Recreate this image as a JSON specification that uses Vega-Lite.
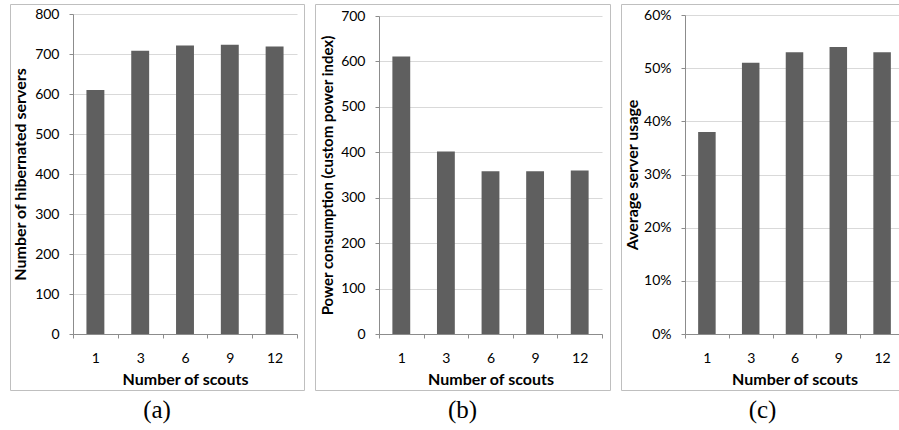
{
  "$schema": "https://vega.github.io/schema/vega-lite/v6.json",
  "padding": {"left": 9, "top": 3, "right": 0, "bottom": 0},
  "background": "white",
  "spacing": 9,
  "datasets": {
    "scouts": [
      {"scouts": 1, "hibernated": 610, "power": 611, "usage": 0.38},
      {"scouts": 3, "hibernated": 708, "power": 402, "usage": 0.51},
      {"scouts": 6, "hibernated": 721, "power": 358, "usage": 0.53},
      {"scouts": 9, "hibernated": 723, "power": 358, "usage": 0.54},
      {"scouts": 12, "hibernated": 719, "power": 360, "usage": 0.53}
    ]
  },
  "config": {
    "view": {"stroke": "#bfbfbf", "strokeWidth": 1},
    "font": "Lato",
    "axis": {
      "labelFont": "Lato",
      "labelFontSize": 14,
      "labelColor": "#000000",
      "titleFont": "Lato",
      "titleFontWeight": "bold",
      "titleColor": "#000000",
      "domainColor": "#8c8c8c",
      "tickColor": "#8c8c8c",
      "gridColor": "#d9d9d9",
      "tickSize": 4
    },
    "title": {"font": "Liberation Serif", "fontSize": 25, "fontWeight": "normal", "color": "#000000"}
  },
  "hconcat": [
    {
      "width": 294,
      "height": 386,
      "data": {"name": "scouts"},
      "title": {"text": "(a)", "orient": "bottom", "offset": 8},
      "mark": {"type": "bar", "color": "#5f5f5f", "width": {"band": 0.4}},
      "encoding": {
        "x": {
          "field": "scouts", "type": "ordinal",
          "scale": {"range": [63, 287], "paddingInner": 0, "paddingOuter": 0},
          "axis": {"title": "Number of scouts", "titleFontSize": 16, "labelAngle": 0, "offset": -56, "tickBand": "extent", "labelPadding": 13, "titlePadding": 6, "grid": false}
        },
        "y": {
          "field": "hibernated", "type": "quantitative",
          "scale": {"domain": [0, 800], "range": [330, 10], "nice": false, "zero": true},
          "axis": {"title": "Number of hibernated servers", "titleFontSize": 16, "values": [0, 100, 200, 300, 400, 500, 600, 700, 800], "offset": -63, "grid": true, "labelPadding": 10, "titlePadding": 6}
        }
      }
    },
    {
      "width": 295,
      "height": 386,
      "data": {"name": "scouts"},
      "title": {"text": "(b)", "orient": "bottom", "offset": 8},
      "mark": {"type": "bar", "color": "#5f5f5f", "width": {"band": 0.4}},
      "encoding": {
        "x": {
          "field": "scouts", "type": "ordinal",
          "scale": {"range": [64, 287], "paddingInner": 0, "paddingOuter": 0},
          "axis": {"title": "Number of scouts", "titleFontSize": 16, "labelAngle": 0, "offset": -56, "tickBand": "extent", "labelPadding": 13, "titlePadding": 6, "grid": false}
        },
        "y": {
          "field": "power", "type": "quantitative",
          "scale": {"domain": [0, 700], "range": [330, 12], "nice": false, "zero": true},
          "axis": {"title": "Power consumption (custom power index)", "titleFontSize": 15, "values": [0, 100, 200, 300, 400, 500, 600, 700], "offset": -64, "grid": true, "labelPadding": 10, "titlePadding": 5}
        }
      }
    },
    {
      "width": 283,
      "height": 386,
      "data": {"name": "scouts"},
      "title": {"text": "(c)", "orient": "bottom", "offset": 8, "anchor": "middle"},
      "mark": {"type": "bar", "color": "#5f5f5f", "width": {"band": 0.4}},
      "encoding": {
        "x": {
          "field": "scouts", "type": "ordinal",
          "scale": {"range": [64, 283], "paddingInner": 0, "paddingOuter": 0},
          "axis": {"title": "Number of scouts", "titleFontSize": 16, "labelAngle": 0, "offset": -56, "tickBand": "extent", "labelPadding": 13, "titlePadding": 6, "grid": false}
        },
        "y": {
          "field": "usage", "type": "quantitative",
          "scale": {"domain": [0, 0.6], "range": [330, 11], "nice": false, "zero": true},
          "axis": {"title": "Average server usage", "titleFontSize": 16, "format": ".0%", "values": [0, 0.1, 0.2, 0.3, 0.4, 0.5, 0.6], "offset": -64, "grid": true, "labelPadding": 10, "titlePadding": 3}
        }
      }
    }
  ]
}
